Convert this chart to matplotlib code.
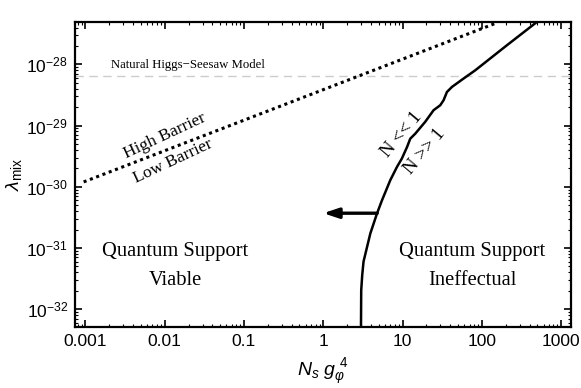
import numpy as np
import matplotlib
matplotlib.use('Agg')
import matplotlib.pyplot as plt

# --- data ---
# boundary between the two regimes (N_s g^4, lambda_mix)
bound_x = [2.99, 3.01, 3.1, 3.22, 3.48, 3.92, 4.75, 5.5, 7.0, 8.5, 9.8, 11.4, 12.5, 14.5,
           19.3, 24.6, 29.9, 32.9, 36.3, 42.0, 58.8, 82.6, 207.0, 495.0]
bound_y = [5.06e-33, 2.04e-32, 3.6e-32, 6.0e-32, 9.1e-32, 1.72e-31, 3.63e-31, 6.0e-31,
           1.28e-30, 2.11e-30, 2.89e-30, 4.47e-30, 6.1e-30, 7.4e-30, 1.15e-29, 1.78e-29,
           2.15e-29, 2.59e-29, 3.54e-29, 4.28e-29, 5.86e-29, 8.0e-29, 2.05e-28, 4.93e-28]

# high / low barrier separation (~ x^0.5)
barrier_x = [0.00095, 150.0]
barrier_y = [1.2e-30, 4.7e-28]

higgs_seesaw = 6.4e-29
arrow_y = 3.7e-31
arrow_from, arrow_to = 4.8, 1.0

xticks = [0.001, 0.01, 0.1, 1, 10, 100, 1000]
xticklabels = ['0.001', '0.01', '0.1', '1', '10', '100', '1000']
yticks = [1e-32, 1e-31, 1e-30, 1e-29, 1e-28]

plt.rcParams['font.family'] = ['Liberation Sans', 'DejaVu Sans']
plt.rcParams['mathtext.fontset'] = 'custom'
plt.rcParams['mathtext.rm'] = 'Liberation Sans'
plt.rcParams['mathtext.it'] = 'Liberation Sans:italic'

fig = plt.figure(figsize=(5.81, 3.88), dpi=100)
ax = fig.add_axes([0.129, 0.157, 0.854, 0.786])
ax.set_xscale('log')
ax.set_yscale('log')
ax.set_xlim(7.38e-4, 1337)
ax.set_ylim(5.1e-33, 4.9e-28)

ax.axhline(higgs_seesaw, color='#cccccc', lw=1.0, ls=(0, (6, 4)))
ax.plot(barrier_x, barrier_y, color='black', lw=2.2, ls=(0, (1, 1.2)))
ax.plot(bound_x, bound_y, color='black', lw=1.8)
ax.annotate('', xy=(arrow_to, arrow_y), xytext=(arrow_from, arrow_y),
            arrowprops=dict(arrowstyle='-|>,head_length=0.9,head_width=0.3',
                            color='black', lw=2.4, shrinkA=0, shrinkB=0))

serif = 'Liberation Serif'
ax.text(0.0199, 9.6e-29, 'Natural Higgs\u2212Seesaw Model', family=serif,
        fontsize=9.2, ha='center', va='center')
ax.text(0.0099, 6.8e-30, 'High Barrier', family=serif, fontsize=12.5,
        rotation=25, ha='center', va='center')
ax.text(0.0128, 2.6e-30, 'Low Barrier', family=serif, fontsize=12.5,
        rotation=25, ha='center', va='center')
ax.text(9.8, 7.2e-30, 'N << 1', family=serif, fontsize=13.5,
        rotation=50, ha='center', va='center')
ax.text(19.3, 3.73e-30, 'N >> 1', family=serif, fontsize=13.5,
        rotation=50, ha='center', va='center')
for xc, lab in [(0.0136, 'Viable'), (75.7, 'Ineffectual')]:
    ax.text(xc, 8.8e-32, 'Quantum Support', family=serif, fontsize=14.8,
            ha='center', va='center')
    ax.text(xc, 2.96e-32, lab, family=serif, fontsize=14.8,
            ha='center', va='center')

ax.set_xticks(xticks)
ax.set_xticklabels(xticklabels)
ax.set_yticks(yticks)
ax.tick_params(which='both', direction='in', top=True, right=True, labelsize=12.5)
ax.tick_params(which='major', length=5, width=1.2, pad=5)
ax.tick_params(which='minor', length=2.5, width=0.8)
for s in ax.spines.values():
    s.set_linewidth(1.6)

ax.set_xlabel(r'$N_s\ g_\varphi^{\ 4}$', fontsize=14, labelpad=6)
ax.set_ylabel(r'$\lambda_{\rm mix}$', fontsize=14, labelpad=2)

fig.savefig('out.png', dpi=100)
